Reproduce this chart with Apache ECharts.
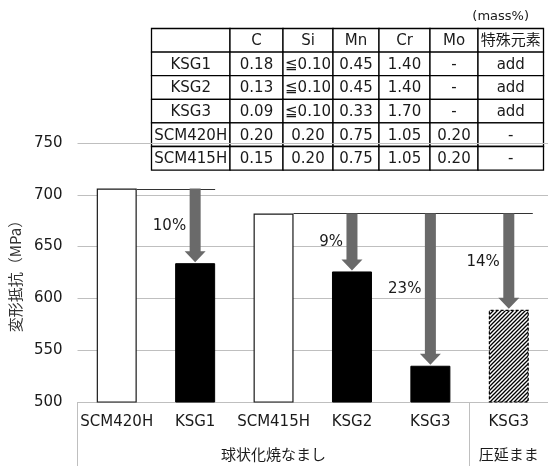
<!DOCTYPE html>
<html><head><meta charset="utf-8">
<script src="https://cdn.jsdelivr.net/npm/echarts@6/dist/echarts.min.js"></script>
<style>html,body{margin:0;padding:0;background:#fff}#c{width:548px;height:466px}</style>
</head><body><div id="c"></div>
<script>
const categories = ['SCM420H', 'KSG1', 'SCM415H', 'KSG2', 'KSG3', 'KSG3'];
const values = [706, 634, 682, 626, 535, 589];
const barKinds = ['base', 'new', 'base', 'new', 'new', 'rolled'];
const groupNames = ['球状化焼なまし', '圧延まま'];
const groupSizes = [5, 1];
const yMin = 500, yMax = 750, yStep = 50;
const yAxisTitle = '変形抵抗（MPa）';
const refFrom = [0, 2];
const refTo = [1, 5];
const arrowFrom = [0, 2, 2, 2];
const arrowTo = [1, 3, 4, 5];
const arrowLabels = ['10%', '9%', '23%', '14%'];
const tableUnit = '(mass%)';
const tableHeader = ['', 'C', 'Si', 'Mn', 'Cr', 'Mo', '特殊元素'];
const tableRow1 = ['KSG1', '0.18', '≦0.10', '0.45', '1.40', '-', 'add'];
const tableRow2 = ['KSG2', '0.13', '≦0.10', '0.45', '1.40', '-', 'add'];
const tableRow3 = ['KSG3', '0.09', '≦0.10', '0.33', '1.70', '-', 'add'];
const tableRow4 = ['SCM420H', '0.20', '0.20', '0.75', '1.05', '0.20', '-'];
const tableRow5 = ['SCM415H', '0.15', '0.20', '0.75', '1.05', '0.20', '-'];

const FONT = '"DejaVu Sans","Noto Sans CJK JP",sans-serif';
const TXT = '#1a1a1a';

// hatch pattern
const pc = document.createElement('canvas');
pc.width = 4; pc.height = 4;
const g = pc.getContext('2d');
g.fillStyle = '#fff'; g.fillRect(0, 0, 4, 4);
g.strokeStyle = '#000'; g.lineWidth = 1.3;
g.beginPath();
g.moveTo(-1, 5); g.lineTo(5, -1);
g.moveTo(-1, 1); g.lineTo(1, -1);
g.moveTo(3, 5); g.lineTo(5, 3);
g.stroke();

const styleFor = {
  base: { color: '#fff', borderColor: '#1a1a1a', borderWidth: 1.2 },
  new: { color: '#000', borderColor: '#000', borderWidth: 1 },
  rolled: { color: { image: pc, repeat: 'repeat' }, borderColor: '#000', borderWidth: 1.2, borderType: [3, 2] }
};

const bounds = [0];
groupSizes.forEach(s => bounds.push(bounds[bounds.length - 1] + s));
const mids = groupSizes.map((s, i) => bounds[i] + s / 2);

// table graphics
const tableRows = [tableHeader, tableRow1, tableRow2, tableRow3, tableRow4, tableRow5];
const colW = [78.5, 53, 50, 46, 51, 48, 65.5];
const rowH = 23.6;
const tx0 = 151.5, ty0 = 28.5;
const tableEls = [];
tableRows.forEach((row, r) => {
  let x = tx0;
  row.forEach((cell, c) => {
    tableEls.push({
      type: 'rect',
      shape: { x: x, y: ty0 + r * rowH, width: colW[c], height: rowH },
      style: { fill: '#fff', stroke: '#000', lineWidth: 1.3 }
    });
    tableEls.push({
      type: 'text',
      x: x + colW[c] / 2, y: ty0 + r * rowH + rowH / 2 + 1,
      style: { text: cell, fill: TXT, font: '15px ' + FONT, textAlign: 'center', textVerticalAlign: 'middle' },
      z2: 10
    });
    x += colW[c];
  });
});
tableEls.push({
  type: 'text', x: 529, y: 17,
  style: { text: tableUnit, fill: TXT, font: '13px ' + FONT, textAlign: 'right', textVerticalAlign: 'middle' }
});

const chart = echarts.init(document.getElementById('c'));
chart.setOption({
  animation: false,
  backgroundColor: '#fff',
  grid: { left: 75, top: 143, width: 480, height: 259, containLabel: false },
  xAxis: [{
    type: 'category', data: categories,
    axisLine: { lineStyle: { color: '#bfbfbf', width: 1 } },
    axisTick: { show: false },
    axisLabel: { fontSize: 15, color: TXT, fontFamily: FONT, margin: 13, interval: 0 }
  }, {
    type: 'value', min: 0, max: bounds[bounds.length - 1], position: 'bottom',
    axisLine: { show: false }, splitLine: { show: false },
    axisTick: { show: true, customValues: bounds, length: 64, lineStyle: { color: '#bfbfbf', width: 1 } },
    axisLabel: {
      customValues: mids, fontSize: 15, color: TXT, fontFamily: FONT, margin: 47,
      formatter: v => { const i = mids.indexOf(v); return i >= 0 ? groupNames[i] : ''; }
    }
  }],
  yAxis: {
    type: 'value', min: yMin, max: yMax, interval: yStep,
    name: yAxisTitle, nameLocation: 'middle', nameGap: 47, nameRotate: 90,
    nameTextStyle: { fontSize: 15, color: '#333', fontFamily: '"Noto Sans CJK JP",sans-serif' },
    axisLine: { show: false }, axisTick: { show: false },
    axisLabel: { fontSize: 15, color: TXT, fontFamily: FONT, margin: 15 },
    splitLine: { lineStyle: { color: '#bfbfbf', width: 1 } }
  },
  series: [{
    type: 'bar', barWidth: 40, xAxisIndex: 0,
    data: values.map((v, i) => ({ value: v, itemStyle: styleFor[barKinds[i]] }))
  }, {
    type: 'custom', xAxisIndex: 0, z: 5,
    encode: { x: 0, y: 2 },
    data: refFrom.map((f, i) => [f, refTo[i], values[f]]),
    renderItem: (params, api) => {
      const half = 20;
      const p0 = api.coord([api.value(0), api.value(2)]);
      const p1 = api.coord([api.value(1), api.value(2)]);
      const extra = api.value(1) === categories.length - 1 ? 4 : 0;
      return { type: 'line', shape: { x1: p0[0] + half, y1: Math.round(p0[1]) + 0.5, x2: p1[0] + half + extra, y2: Math.round(p0[1]) + 0.5 },
        style: { stroke: '#333', lineWidth: 1 } };
    }
  }, {
    type: 'custom', xAxisIndex: 0, z: 6,
    encode: { x: 0, y: 2 },
    data: arrowTo.map((t, i) => [t, values[arrowFrom[i]], values[t], i]),
    renderItem: (params, api) => {
      const top = api.coord([api.value(0), api.value(1)]);
      const bot = api.coord([api.value(0), api.value(2)]);
      const cx = top[0], y0 = top[1], tip = bot[1] - 1;
      const sw = 5.5, hw = 10.5, hl = 11;
      return { type: 'group', children: [{
        type: 'polygon',
        shape: { points: [[cx - sw, y0], [cx + sw, y0], [cx + sw, tip - hl], [cx + hw, tip - hl], [cx, tip], [cx - hw, tip - hl], [cx - sw, tip - hl]] },
        style: { fill: '#6a6a6a' }
      }, {
        type: 'text', x: cx - 9, y: (y0 + bot[1]) / 2,
        style: { text: arrowLabels[api.value(3)], fill: TXT, font: '15px ' + FONT, textAlign: 'right', textVerticalAlign: 'middle' }
      }] };
    }
  }],
  graphic: [{ type: 'group', z: 100, children: tableEls }]
});
</script>
</body></html>
